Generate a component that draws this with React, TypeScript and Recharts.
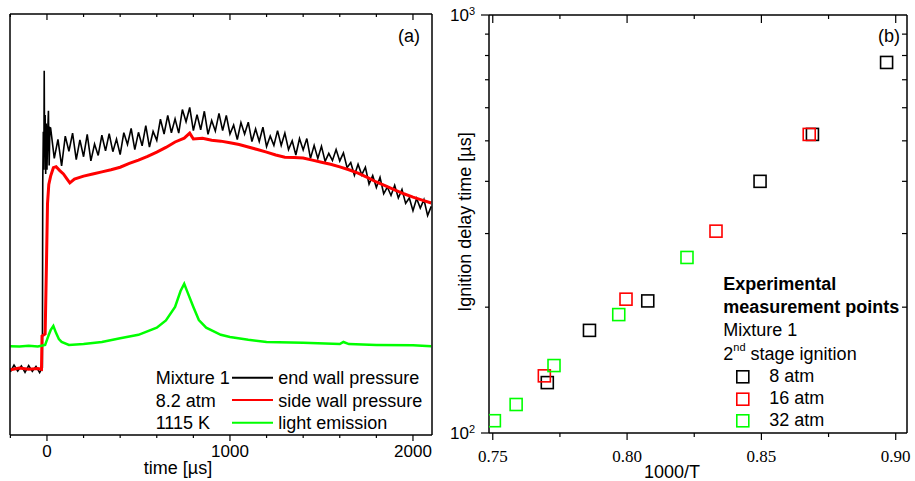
import { LineChart, Line, ScatterChart, Scatter, XAxis, YAxis } from 'recharts';

const SANS = '"Liberation Sans", Arial, Helvetica, sans-serif';
const SERIF = '"Liberation Serif", "Times New Roman", serif';
const BLACK = '#000000';
const RED = '#ff0000';
const GREEN = '#00ff00';
const FRAME = { stroke: '#000', strokeWidth: 1.5 };

// ---- panel (a): pressure / emission traces (arbitrary units 0..100)
const timeTicks = [-200, 0, 200, 400, 600, 800, 1000, 1200, 1400, 1600, 1800, 2000];

const endWallT = [
  -200, -180, -160, -140, -120, -100, -80, -60, -40, -25,
  -23, -20, -17, -15, -13, -10, -7, -4, 0, 4, 8, 12, 16,
  20, 40, 60, 80, 100, 120, 140, 160, 180, 200, 220, 240, 260, 280, 300,
  320, 340, 360, 380, 400, 420, 440, 460, 480, 500, 520, 540, 560, 580, 600,
  620, 640, 660, 680, 700, 720, 740, 760, 780, 800, 820, 840, 860, 880, 900,
  920, 940, 960, 980, 1000, 1020, 1040, 1060, 1080, 1100, 1120, 1140, 1160, 1180, 1200,
  1220, 1240, 1260, 1280, 1300, 1320, 1340, 1360, 1380, 1400, 1420, 1440, 1460, 1480, 1500,
  1520, 1540, 1560, 1580, 1600, 1620, 1640, 1660, 1680, 1700, 1720, 1740, 1760, 1780, 1800,
  1820, 1840, 1860, 1880, 1900, 1920, 1940, 1960, 1980, 2000, 2020, 2040, 2060, 2080, 2100,
];
const endWallP = [
  15.0, 16.6, 15.2, 16.4, 14.9, 16.5, 15.1, 16.3, 14.8, 16.0,
  60, 72, 63, 86.5, 66, 76, 62, 74, 63, 72, 77, 64, 73,
  72.9, 65.7, 70.2, 63.9, 71.0, 67.4, 71.7, 65.4, 70.1, 66.1, 71.4, 65.1, 69.1, 66.4, 71.2,
  67.5, 71.6, 67.3, 70.3, 66.6, 71.8, 69.0, 72.8, 67.8, 71.9, 68.7, 73.5, 68.4, 72.1, 70.0,
  75.0, 71.5, 75.9, 71.8, 75.1, 71.7, 77.3, 74.4, 77.8, 72.3, 76.1, 72.5, 76.9, 71.4, 74.7,
  72.2, 76.4, 72.3, 75.9, 71.5, 73.6, 70.2, 74.2, 71.5, 74.3, 69.7, 72.7, 69.7, 73.1, 68.5,
  71.0, 68.8, 72.3, 68.8, 71.7, 67.8, 69.9, 66.5, 70.4, 67.7, 70.4, 65.7, 68.8, 65.7, 68.6,
  65.0, 66.9, 65.2, 67.8, 65.1, 67.0, 63.5, 64.7, 61.7, 64.3, 61.8, 63.6, 59.6, 61.6, 58.8,
  61.2, 57.3, 58.9, 56.9, 59.3, 56.3, 58.3, 55.0, 56.3, 53.3, 56.2, 53.9, 55.9, 52.1, 54.3,
];

const sideWallT = [
  -200, -150, -100, -50, -30, -27, -10, -3, 3, 10,
  20, 35, 50, 70, 90, 110, 125, 150, 200, 250,
  300, 350, 400, 450, 500, 550, 600, 650, 700, 750,
  780, 800, 850, 900, 950, 1000, 1050, 1100, 1150, 1200,
  1250, 1300, 1350, 1400, 1450, 1500, 1550, 1600, 1650, 1700,
  1750, 1800, 1850, 1900, 1950, 2000, 2050, 2100,
];
const sideWallP = [
  15.5, 15.9, 15.6, 15.8, 15.6, 23.5, 24.0, 40, 55, 59.5,
  61.5, 63.5, 63.7, 62.8, 62.0, 60.8, 59.9, 60.8, 61.5, 62.0,
  62.5, 63.0, 63.6, 64.5, 65.3, 66.2, 67.2, 68.3, 69.6, 70.5,
  71.7, 70.3, 70.5, 70.0, 69.8, 69.4, 69.0, 68.4, 67.8, 67.2,
  66.5, 66.0, 65.9, 65.8, 65.3, 64.8, 64.3, 63.7, 63.0, 62.2,
  61.2, 60.1, 59.2, 58.2, 57.3, 56.5, 55.8, 55.1,
];

const lightT = [
  -200, -150, -100, -50, -10, 0, 10, 20, 35, 50,
  65, 80, 120, 200, 300, 400, 500, 600, 650, 700,
  730, 750, 770, 800, 830, 870, 950, 1000, 1100, 1200,
  1400, 1600, 1620, 1650, 1800, 2000, 2100,
];
const lightE = [
  21.1, 21.0, 21.2, 21.0, 21.4, 22.6, 23.8, 24.9, 25.9, 24.2,
  22.8, 22.1, 21.4, 21.6, 22.1, 23.0, 23.8, 25.5, 27.2, 30.4,
  34.2, 35.9, 33.7, 30.4, 27.3, 25.5, 23.8, 23.3, 22.6, 22.1,
  21.9, 21.6, 22.1, 21.6, 21.4, 21.3, 21.1,
];

const endWall = endWallT.map((t, i) => ({ t, v: endWallP[i] }));
const sideWall = sideWallT.map((t, i) => ({ t, v: sideWallP[i] }));
const light = lightT.map((t, i) => ({ t, v: lightE[i] }));

// ---- panel (b): ignition delay vs 1000/T
const invTMajor = [0.75, 0.8, 0.85, 0.9];
const invTTicks = [0.75, 0.775, 0.8, 0.825, 0.85, 0.875, 0.9];
const delayTicks = [100, 200, 300, 400, 500, 600, 700, 800, 900, 1000];

const atm8X = [0.7703, 0.786, 0.8077, 0.8495, 0.869, 0.8966];
const atm8Y = [132, 176, 207, 400, 518, 770];
const atm16X = [0.7692, 0.7996, 0.8331, 0.8678];
const atm16Y = [137, 209, 304, 518];
const atm32X = [0.7506, 0.7587, 0.7728, 0.7969, 0.8223];
const atm32Y = [107, 117, 145, 192, 263];

const atm8 = atm8X.map((x, i) => ({ x, y: atm8Y[i] }));
const atm16 = atm16X.map((x, i) => ({ x, y: atm16Y[i] }));
const atm32 = atm32X.map((x, i) => ({ x, y: atm32Y[i] }));

// ---- tick renderers (tickSize 0 so x/y sit on the axis line)
const timeBottom = (p: any) => {
  const { x, y, payload } = p;
  const major = payload.value % 1000 === 0;
  return (
    <g>
      <line x1={x} x2={x} y1={y} y2={y + (major ? 6 : 3)} stroke="#000" strokeWidth={1.2} />
      {major && (
        <text x={x} y={y + 21.5} textAnchor="middle" fontFamily={SANS} fontSize={17} fill="#000">
          {payload.value}
        </text>
      )}
    </g>
  );
};

const timeTop = (p: any) => {
  const { x, y, payload } = p;
  const major = payload.value % 1000 === 0;
  return <line x1={x} x2={x} y1={y} y2={y + (major ? 6 : 3)} stroke="#000" strokeWidth={1.2} />;
};

const invTBottom = (p: any) => {
  const { x, y, payload } = p;
  const major = invTMajor.includes(payload.value);
  return (
    <g>
      <line x1={x} x2={x} y1={y} y2={y + (major ? 7 : 4)} stroke="#000" strokeWidth={1.2} />
      {major && (
        <text x={x} y={y + 28.5} textAnchor="middle" fontFamily={SERIF} fontSize={17} fill="#000">
          {payload.value.toFixed(2)}
        </text>
      )}
    </g>
  );
};

const invTTop = (p: any) => {
  const { x, y, payload } = p;
  const major = invTMajor.includes(payload.value);
  return <line x1={x} x2={x} y1={y} y2={y + (major ? 8 : 4)} stroke="#000" strokeWidth={1.2} />;
};

const delayLeft = (p: any) => {
  const { x, y, payload } = p;
  const major = payload.value === 100 || payload.value === 1000;
  return (
    <g>
      <line x1={x - (major ? 8 : 4)} x2={x} y1={y} y2={y} stroke="#000" strokeWidth={1.2} />
      {major && (
        <text x={x - 14} y={y + 6.3} textAnchor="end" fontFamily={SANS} fontSize={17} fill="#000">
          10
          <tspan dy={-6.5} fontSize={11}>{payload.value === 100 ? '2' : '3'}</tspan>
        </text>
      )}
    </g>
  );
};

const delayRight = (p: any) => {
  const { x, y, payload } = p;
  if (payload.value === 100 || payload.value === 1000) return <g />;
  return <line x1={x - 5} x2={x} y1={y} y2={y} stroke="#000" strokeWidth={1.2} />;
};

const square = (color: string) => (p: any) => (
  <rect x={p.cx - 6} y={p.cy - 6} width={12} height={12} fill="none" stroke={color} strokeWidth={1.6} />
);

// axes take 1px each (a 0-sized axis is not drawn), margins are reduced by that 1px
const axisBase = { tickSize: 0, tickMargin: 0, tickLine: false, axisLine: FRAME, interval: 0 as const };

export default function App() {
  return (
    <div style={{ position: 'absolute', left: 0, top: 0, width: 915, height: 481, background: '#fff' }}>
      <div style={{ position: 'absolute', left: 0, top: 0 }}>
        <LineChart width={440} height={481} margin={{ top: 13, right: 7, bottom: 45, left: 9 }}>
          <XAxis xAxisId="b" type="number" dataKey="t" domain={[-202, 2104]} allowDataOverflow
            ticks={timeTicks} height={1} tick={timeBottom} {...axisBase} />
          <XAxis xAxisId="t" orientation="top" type="number" dataKey="t" domain={[-202, 2104]} allowDataOverflow
            ticks={timeTicks} height={1} tick={timeTop} {...axisBase} />
          <YAxis yAxisId="l" type="number" domain={[0, 100]} width={1} tick={false} {...axisBase} />
          <YAxis yAxisId="r" orientation="right" type="number" domain={[0, 100]} width={1} tick={false} {...axisBase} />
          <Line xAxisId="b" yAxisId="l" data={endWall} dataKey="v" stroke={BLACK} strokeWidth={1.6}
            dot={false} activeDot={false} isAnimationActive={false} type="linear" />
          <Line xAxisId="b" yAxisId="l" data={sideWall} dataKey="v" stroke={RED} strokeWidth={3}
            dot={false} activeDot={false} isAnimationActive={false} type="linear" />
          <Line xAxisId="b" yAxisId="l" data={light} dataKey="v" stroke={GREEN} strokeWidth={2.5}
            dot={false} activeDot={false} isAnimationActive={false} type="linear" />
        </LineChart>
      </div>

      <div style={{ position: 'absolute', left: 440, top: 0 }}>
        <ScatterChart width={475} height={481} margin={{ top: 14, right: 7, bottom: 47, left: 48 }}>
          <XAxis xAxisId="b" type="number" dataKey="x" domain={[0.7486, 0.9042]} allowDataOverflow
            ticks={invTTicks} height={1} tick={invTBottom} {...axisBase} />
          <XAxis xAxisId="t" orientation="top" type="number" dataKey="x" domain={[0.7486, 0.9042]} allowDataOverflow
            ticks={invTTicks} height={1} tick={invTTop} {...axisBase} />
          <YAxis yAxisId="l" type="number" dataKey="y" scale="log" domain={[100, 1000]} allowDataOverflow
            ticks={delayTicks} width={1} tick={delayLeft} {...axisBase} />
          <YAxis yAxisId="r" orientation="right" type="number" dataKey="y" scale="log" domain={[100, 1000]} allowDataOverflow
            ticks={delayTicks} width={1} tick={delayRight} {...axisBase} />
          <Scatter xAxisId="b" yAxisId="l" data={atm8} shape={square(BLACK)} isAnimationActive={false} />
          <Scatter xAxisId="b" yAxisId="l" data={atm16} shape={square(RED)} isAnimationActive={false} />
          <Scatter xAxisId="b" yAxisId="l" data={atm32} shape={square(GREEN)} isAnimationActive={false} />
        </ScatterChart>
      </div>

      <svg width={915} height={481} style={{ position: 'absolute', left: 0, top: 0, pointerEvents: 'none' }}>
        <g fontFamily={SANS} fontSize={18} fill="#000">
          {/* panel (a) */}
          <text x={398} y={41.5}>(a)</text>
          <text x={155.7} y={384}>Mixture 1</text>
          <text x={155.7} y={406.5}>8.2 atm</text>
          <text x={155.7} y={429}>1115 K</text>
          <line x1={232} x2={273} y1={377.7} y2={377.7} stroke={BLACK} strokeWidth={2} />
          <line x1={232} x2={273} y1={400} y2={400} stroke={RED} strokeWidth={2} />
          <line x1={232} x2={273} y1={422.7} y2={422.7} stroke={GREEN} strokeWidth={2} />
          <text x={278.3} y={384}>end wall pressure</text>
          <text x={278.3} y={406.5}>side wall pressure</text>
          <text x={278.3} y={429}>light emission</text>
          <text x={178} y={474} textAnchor="middle">time [µs]</text>

          {/* panel (b) */}
          <text x={878} y={41.5}>(b)</text>
          <text x={723.3} y={290} fontWeight="bold">Experimental</text>
          <text x={723.3} y={313.3} fontWeight="bold">measurement points</text>
          <text x={723.3} y={335.7}>Mixture 1</text>
          <text x={723.3} y={360}>
            2<tspan dy={-9} fontSize={11}>nd</tspan>
            <tspan dy={9}> stage ignition</tspan>
          </text>
          <rect x={736.8} y={370.8} width={12} height={12} fill="none" stroke={BLACK} strokeWidth={1.6} />
          <rect x={736.8} y={393.2} width={12} height={12} fill="none" stroke={RED} strokeWidth={1.6} />
          <rect x={736.8} y={414.8} width={12} height={12} fill="none" stroke={GREEN} strokeWidth={1.6} />
          <text x={769.3} y={381.7}>8 atm</text>
          <text x={769.3} y={404}>16 atm</text>
          <text x={769.3} y={426}>32 atm</text>
          <text x={672} y={478} textAnchor="middle">1000/T</text>
          <text x={471} y={222} textAnchor="middle" transform="rotate(-90 471 222)">Ignition delay time [µs]</text>
        </g>
      </svg>
    </div>
  );
}
